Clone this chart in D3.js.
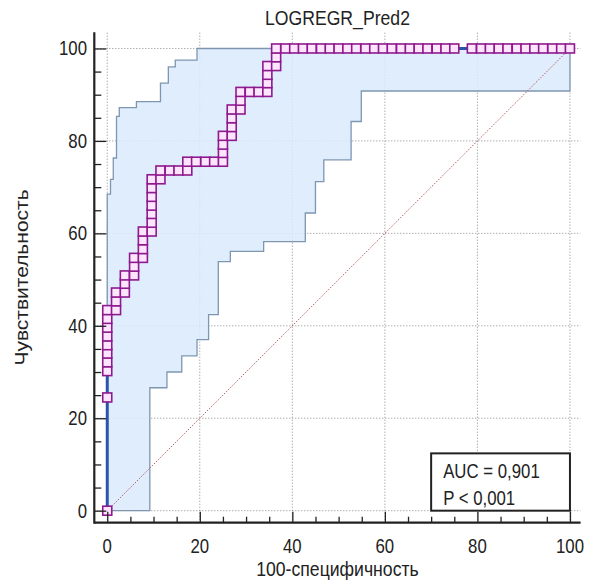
<!DOCTYPE html>
<html><head><meta charset="utf-8">
<script src="https://cdn.jsdelivr.net/npm/d3@7"></script>
<style>body{margin:0;background:#fff}svg{display:block}</style>
</head><body><svg id="c" width="590" height="580"></svg>
<script>
// ---- data ----
const chartTitle = "LOGREGR_Pred2";
const xAxisTitle = "100-специфичность";
const yAxisTitle = "Чувствительность";
const xTicks = [0, 20, 40, 60, 80, 100];
const yTicks = [0, 20, 40, 60, 80, 100];
const statLines = ["AUC = 0,901", "P < 0,001"];

// ROC points (100-specificity, sensitivity)
const rocX = [0, 0, 0, 0, 0, 0, 0, 0, 0, 0,
  1.9, 1.9, 1.9, 3.8, 3.8, 3.8, 5.8, 5.8, 5.8,
  7.7, 7.7, 7.7, 7.7, 9.6, 9.6, 9.6, 9.6, 9.6, 9.6, 9.6,
  11.5, 11.5, 13.5, 15.4, 17.3, 17.3, 19.2, 21.2, 23.1, 25.0,
  25.0, 25.0, 25.0, 26.9, 26.9, 26.9, 26.9, 28.8, 28.8, 28.8,
  30.8, 32.7, 34.6, 34.6, 34.6, 34.6, 36.5, 36.5, 36.5,
  38.5, 40.4, 42.3, 44.2, 46.2, 48.1, 50.0, 51.9, 53.8, 55.8, 57.7, 59.6, 61.5, 63.5, 65.4, 67.3, 69.2, 71.2, 73.1, 75.0,
  78.8, 80.8, 82.7, 84.6, 86.5, 88.5, 90.4, 92.3, 94.2, 96.2, 98.1, 100];
const rocY = [0, 24.5, 30.2, 32.1, 34.0, 35.8, 37.7, 39.6, 41.5, 43.4,
  43.4, 45.3, 47.2, 47.2, 49.1, 50.9, 50.9, 52.8, 54.7,
  54.7, 56.6, 58.5, 60.4, 60.4, 62.3, 64.2, 66.0, 67.9, 69.8, 71.7,
  71.7, 73.6, 73.6, 73.6, 73.6, 75.5, 75.5, 75.5, 75.5, 75.5,
  77.4, 79.2, 81.1, 81.1, 83.0, 84.9, 86.8, 86.8, 88.7, 90.6,
  90.6, 90.6, 90.6, 92.5, 94.3, 96.2, 96.2, 98.1, 100,
  100, 100, 100, 100, 100, 100, 100, 100, 100, 100, 100, 100, 100, 100, 100, 100, 100, 100, 100, 100,
  100, 100, 100, 100, 100, 100, 100, 100, 100, 100, 100, 100];

// 95% confidence bounds (staircase vertices)
const ciUpperX = [0, 0, 0.7, 0.7, 1.3, 1.3, 2.0, 2.0, 2.6, 2.6, 6.3, 6.3, 11.5, 11.5, 13.2, 13.2, 14.7, 14.7, 19.4, 19.4, 100];
const ciUpperY = [0, 68.5, 68.5, 71.7, 71.7, 76.3, 76.3, 85.3, 85.3, 87.2, 87.2, 88.5, 88.5, 92.5, 92.5, 96.0, 96.0, 97.5, 97.5, 100, 100];
const ciLowerX = [0, 9.2, 9.2, 12.9, 12.9, 16.1, 16.1, 19.4, 19.4, 21.9, 21.9, 24.0, 24.0, 26.6, 26.6, 33.8, 33.8, 42.8, 42.8, 45.0, 45.0, 46.8, 46.8, 52.7, 52.7, 54.9, 54.9, 100, 100];
const ciLowerY = [0, 0, 26.6, 26.6, 30.0, 30.0, 33.5, 33.5, 37.0, 37.0, 42.4, 42.4, 53.9, 53.9, 56.1, 56.1, 58.2, 58.2, 64.4, 64.4, 71.2, 71.2, 75.9, 75.9, 84.2, 84.2, 90.8, 90.8, 100];

// ---- drawing ----
const svg = d3.select("#c");
const FONT = "'Liberation Sans', Arial, Helvetica, sans-serif";
const SX = 0.84;

const x = d3.scaleLinear().domain([-2.8, 102.3]).range([94.3, 580.6]);
const y = d3.scaleLinear().domain([-2.6, 103.5]).range([522.7, 32.3]);
const [x0, x1] = x.range();
const [y0, y1] = y.range();

// gridlines
const grid = svg.append("g").attr("stroke", "#8a8a8a").attr("stroke-width", 1).attr("stroke-dasharray", "1,2");
grid.selectAll("line.v").data(xTicks).join("line").attr("class", "v")
  .attr("x1", d => x(d)).attr("x2", d => x(d)).attr("y1", y0).attr("y2", y1);
grid.selectAll("line.h").data(yTicks).join("line").attr("class", "h")
  .attr("y1", d => y(d)).attr("y2", d => y(d)).attr("x1", x0).attr("x2", x1);

// confidence band
const upper = ciUpperX.map((v, i) => [v, ciUpperY[i]]);
const lower = ciLowerX.map((v, i) => [v, ciLowerY[i]]);
const poly = upper.concat(lower.slice().reverse());
const line = d3.line().x(d => x(d[0])).y(d => y(d[1]));
svg.append("path").attr("d", line(poly) + "Z").attr("fill", "#dbeafc").attr("fill-opacity", 0.85).attr("stroke", "none");
svg.append("path").attr("d", line(upper)).attr("fill", "none").attr("stroke", "#7f96b0").attr("stroke-width", 1.3);
svg.append("path").attr("d", line(lower)).attr("fill", "none").attr("stroke", "#7f96b0").attr("stroke-width", 1.3);

// diagonal reference
svg.append("line").attr("x1", x(0)).attr("y1", y(0)).attr("x2", x(100)).attr("y2", y(100))
  .attr("stroke", "#b45e5e").attr("stroke-width", 1).attr("stroke-dasharray", "1.5,1.5");

// ROC curve
const roc = rocX.map((v, i) => [v, rocY[i]]);
svg.append("path").attr("d", line(roc)).attr("fill", "none").attr("stroke", "#2a55a8").attr("stroke-width", 3);
const M = 9;
svg.append("g").selectAll("rect").data(roc).join("rect")
  .attr("x", d => x(d[0]) - M / 2).attr("y", d => y(d[1]) - M / 2)
  .attr("width", M).attr("height", M)
  .attr("fill", "#fde6fd").attr("stroke", "#8e1a8e").attr("stroke-width", 1.6);

// axes (ticks inward)
const minorX = d3.range(0, 101, 5).filter(v => v % 20 !== 0);
const axB = svg.append("g").attr("transform", `translate(0,${y0})`);
axB.call(d3.axisBottom(x).tickValues(xTicks).tickSize(-11).tickFormat(""));
axB.call(g => g.select(".domain").remove());
axB.selectAll(".tick line").attr("stroke", "#222").attr("stroke-width", 1.3);
const axBm = svg.append("g").attr("transform", `translate(0,${y0})`);
axBm.call(d3.axisBottom(x).tickValues(minorX).tickSize(-6).tickFormat(""));
axBm.call(g => g.select(".domain").remove());
axBm.selectAll(".tick line").attr("stroke", "#222").attr("stroke-width", 1.3);

const axL = svg.append("g").attr("transform", `translate(${x0},0)`);
axL.call(d3.axisLeft(y).tickValues(yTicks).tickSize(-12).tickFormat(""));
axL.call(g => g.select(".domain").remove());
axL.selectAll(".tick line").attr("stroke", "#222").attr("stroke-width", 1.3);
const axLm = svg.append("g").attr("transform", `translate(${x0},0)`);
axLm.call(d3.axisLeft(y).tickValues(minorX).tickSize(-7).tickFormat(""));
axLm.call(g => g.select(".domain").remove());
axLm.selectAll(".tick line").attr("stroke", "#222").attr("stroke-width", 1.3);

svg.append("line").attr("x1", x0).attr("x2", x1).attr("y1", y0).attr("y2", y0).attr("stroke", "#222").attr("stroke-width", 2.2);
svg.append("line").attr("x1", x0).attr("x2", x0).attr("y1", y0 + 1).attr("y2", y1).attr("stroke", "#222").attr("stroke-width", 2.2);

// text helper (horizontally condensed)
function txt(px, py, s, size, anchor, rot) {
  const t = rot ? `translate(${px},${py}) rotate(-90) scale(1,${SX})` : `translate(${px},${py}) scale(${SX},1)`;
  return svg.append("text").attr("transform", t).attr("text-anchor", anchor)
    .attr("font-family", FONT).attr("font-size", size).attr("fill", "#222").text(s);
}
xTicks.forEach(v => txt(x(v), 553, String(v), 20, "middle"));
yTicks.forEach(v => txt(87, y(v) + 7, String(v), 20, "end"));
txt((x0 + x1) / 2, 25, chartTitle, 21, "middle");
txt((x0 + x1) / 2, 576, xAxisTitle, 21, "middle");
txt(28, (y0 + y1) / 2, yAxisTitle, 21, "middle", true);

// AUC box
const bx = x(70), bw = x(100) - x(70), by = y(12.4), bh = y(0) - y(12.4);
svg.append("rect").attr("x", bx).attr("y", by).attr("width", bw).attr("height", bh)
  .attr("fill", "#fff").attr("stroke", "#222").attr("stroke-width", 2);
statLines.forEach((s, i) => txt(bx + 12, by + 25 + i * 27, s, 20, "start"));
</script>
</body></html>
